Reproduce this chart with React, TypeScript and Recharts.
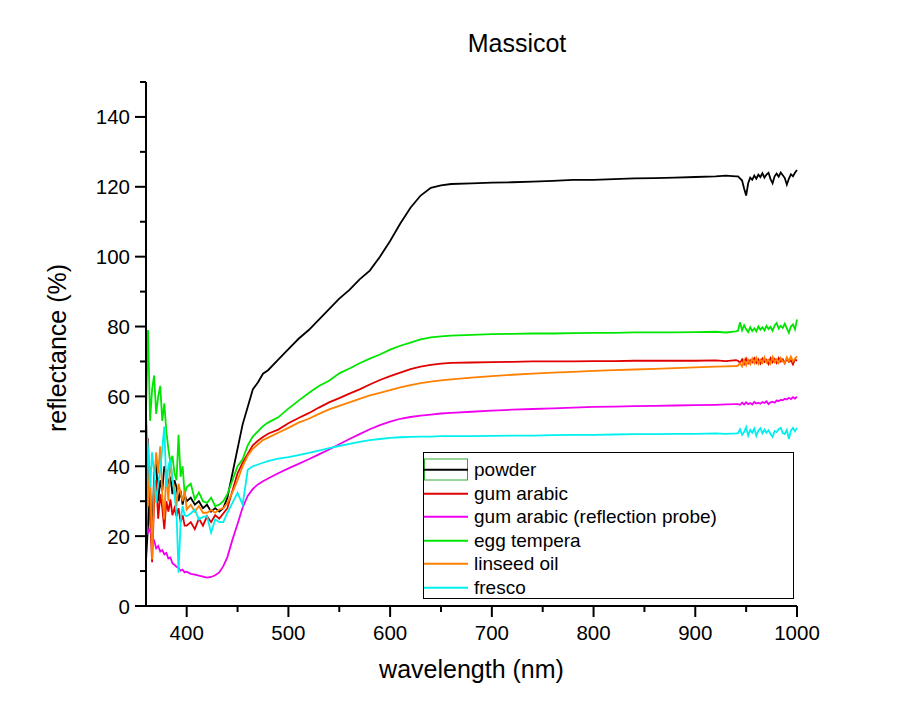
import { Legend, Line, LineChart, XAxis, YAxis } from "recharts";

const FONT = "Arial, 'Liberation Sans', sans-serif";

// wavelength grid (nm): dense where the spectra are noisy
const wavelength = [
  360, 362, 364, 366, 368, 370, 372, 374, 376, 378, 380, 382, 384, 386, 388, 390, 392, 394, 396, 398, 400,
  404, 408, 412, 416, 420, 424, 428, 432, 436, 440,
  445, 450, 455, 460, 465, 470, 475, 480,
  490, 500, 510, 520, 530, 540, 550, 560, 570, 580, 590, 600, 610, 620, 630, 640, 650,
  660, 680, 700, 720, 740, 760, 780, 800, 820, 840, 860, 880, 900, 920,
  930, 940,
  942, 944, 946, 948, 950, 952, 954, 956, 958, 960, 962, 964, 966, 968, 970,
  972, 974, 976, 978, 980, 982, 984, 986, 988, 990, 992, 994, 996, 998, 1000,
];

const powder = [
  13, 23, 34, 18, 38, 41, 30, 36, 33, 40, 38, 35, 37, 32, 36, 34, 30, 33, 29, 32, 30,
  31, 29, 30, 28, 29, 27, 28, 27, 28, 31,
  38, 45, 52, 57, 62, 64, 66.5, 67.5,
  70.5, 73.5, 76.5, 79, 82, 85, 88, 90.5, 93.5, 96, 100, 104.5, 109.5, 114, 117.5, 119.7, 120.4,
  120.8, 121, 121.2, 121.3, 121.5, 121.7, 122, 122, 122.2, 122.4, 122.5, 122.6, 122.8, 123,
  123.2, 123,
  123, 122.4, 121.8, 119.5, 117.5, 121, 122.6, 122, 123.2, 122.3, 123.5, 122.8, 123.9, 122.6, 123.5,
  124, 122.2, 121, 123, 123.8, 122.9, 124.1, 123.3, 122.5, 120.6, 122.3, 123.6, 123, 124, 124.8,
];

const gumArabic = [
  19, 48, 25, 12.5, 30, 36, 25, 32, 28, 22, 30, 27, 30.5, 26, 28, 25.7, 28, 24, 26, 23, 23,
  24, 22, 25, 23, 25.7, 24, 26, 25, 26.5, 28,
  33, 38, 41, 43.5, 46, 47.3, 48.4, 49.3,
  50.5, 52.3, 53.8, 55.2, 56.8, 58.3, 59.5, 60.8, 62, 63.4, 64.7, 65.8, 66.8, 67.8, 68.5, 69, 69.4,
  69.6, 69.7, 69.8, 69.9, 70, 70, 70, 70.1, 70.1, 70.2, 70.2, 70.2, 70.2, 70.3,
  70.1, 70.4,
  70.2, 69.6, 70.6, 69.3, 70.8, 69.5, 70.4, 69.8, 70.9, 69.6, 70.6, 69.4, 70.8, 69.9, 70.5,
  69.3, 70.9, 69.8, 70.7, 69.6, 71, 70, 70.6, 69.5, 70.8, 69.9, 70.4, 69.2, 70.6, 70.2,
];

const reflectionProbe = [
  25, 21, 22, 19.5, 18.8, 16.5, 17.2, 15.6, 16, 14.8, 15.2, 13.6, 13.9, 12.2, 11.8, 11.2, 10.9, 10.1, 10.4, 9.6, 9.8,
  9.2, 9, 8.7, 8.4, 8.1, 8.3, 8.8, 9.6, 11.4, 14,
  19, 23.5, 28.2, 31.5, 33.5, 34.8, 35.7, 36.5,
  38, 39.4, 40.7, 42, 43.4, 44.8, 46.3, 47.8, 49.2, 50.6, 51.8, 52.8, 53.6, 54.1, 54.5, 54.8, 55.1,
  55.3, 55.6, 55.9, 56.2, 56.4, 56.6, 56.8, 57, 57.1, 57.2, 57.3, 57.4, 57.5, 57.6,
  57.7, 57.8,
  57.8, 57.6, 58.2, 57.7, 58.3, 57.8, 58.1, 57.7, 58.4, 58, 58.2, 57.9, 58.4, 58.1, 58.6,
  57.8, 58.3, 58.5, 58.2, 58.8, 58.7, 59, 58.9, 59.3, 59.1, 59.6, 59.2, 59.8, 59.4, 59.9,
];

const eggTempera = [
  55, 79, 53, 62, 66, 55, 60, 63, 53, 58, 50, 45, 41, 43, 38, 36, 49, 37, 40, 32, 34,
  35, 30.5, 32.5, 30, 29.5, 31, 28.6, 29, 30, 32,
  36, 40, 42, 46, 48.5, 50, 51.5, 52.5,
  54, 56.5, 58.8, 61, 63, 64.5, 66.6, 68, 69.5, 70.8, 72, 73.4, 74.5, 75.4, 76.3, 76.9, 77.2,
  77.4, 77.6, 77.8, 77.9, 78, 78, 78.1, 78.2, 78.2, 78.3, 78.3, 78.3, 78.4, 78.5,
  78.3, 78.6,
  78.8, 81.2, 78.9, 80.4, 79.2, 78.4, 79.8, 78.7, 79.5, 78.6, 80, 79.1, 79.8, 78.9, 80.2,
  79.3, 79.9, 78.8, 80.3, 81, 79.4, 80.2, 79.6, 80.8, 79.5, 78.2, 80, 80.6, 79.2, 82,
];

const linseedOil = [
  56, 28.6, 40, 13.3, 35, 44, 38, 45.7, 32, 24.8, 39, 30, 42, 36, 34, 28.6, 35, 32.4, 30, 33, 27.6,
  29, 27, 28.6, 26.7, 26.7, 27.5, 26.7, 27.6, 28, 29.5,
  32.5, 36, 40, 43, 45, 46.3, 47.5, 48.2,
  49.6, 51, 52.5, 53.6, 55, 56.3, 57.3, 58.3, 59.3, 60.3, 61, 61.8, 62.6, 63.2, 63.8, 64.2, 64.6,
  64.9, 65.4, 65.8, 66.2, 66.5, 66.8, 67, 67.3, 67.5, 67.7, 67.9, 68.1, 68.3, 68.5,
  68.6, 68.7,
  68.8, 69.5, 68.6, 70.5, 68.9, 70.4, 69.2, 70.8, 69.5, 71, 69.3, 70.5, 69.6, 71.2, 69.7,
  70.4, 69.4, 71.3, 69.8, 70.6, 69.6, 71, 70, 69.5, 71.2, 70.1, 71.4, 70, 70.8, 71.5,
];

const fresco = [
  54, 45, 34, 44, 38, 29.5, 35, 39, 45, 51.4, 34, 40, 42, 36, 32, 26.7, 9.5, 24, 28.6, 26, 25.7,
  26.5, 27.6, 24.8, 25.5, 25.7, 21, 24.8, 24, 24, 26.7,
  29.5, 32.4, 29, 39, 40, 40.5, 41, 41.5,
  42.2, 42.6, 43.2, 43.8, 44.5, 45.2, 45.8, 46.4, 47, 47.5, 47.8, 48.1, 48.3, 48.4, 48.5, 48.5, 48.6,
  48.6, 48.6, 48.7, 48.8, 48.8, 48.9, 49, 49, 49.1, 49.2, 49.2, 49.3, 49.3, 49.4,
  49.3, 49.4,
  49.5, 50.6, 49, 49.8, 51.2, 48.8, 50.4, 49.6, 50.8, 48.7, 50.2, 50.9, 49.4, 50.5, 49.6,
  50.3, 49.2, 48.4, 50.1, 49.8, 50.6, 51, 49.5, 49.2, 50.4, 47.8, 50.2, 51, 50, 51,
];

const xTicks = [400, 450, 500, 550, 600, 650, 700, 750, 800, 850, 900, 950, 1000];
const yTicks = [0, 10, 20, 30, 40, 50, 60, 70, 80, 90, 100, 110, 120, 130, 140, 150];

const series = [
  { key: "powder", name: "powder", color: "#000000" },
  { key: "gumArabic", name: "gum arabic", color: "#e00000" },
  { key: "reflectionProbe", name: "gum arabic (reflection probe)", color: "#f000f0" },
  { key: "eggTempera", name: "egg tempera", color: "#00e600" },
  { key: "linseedOil", name: "linseed oil", color: "#ff8000" },
  { key: "fresco", name: "fresco", color: "#00f0f0" },
];

const data = wavelength.map((wl, i) => ({
  wl,
  powder: powder[i],
  gumArabic: gumArabic[i],
  reflectionProbe: reflectionProbe[i],
  eggTempera: eggTempera[i],
  linseedOil: linseedOil[i],
  fresco: fresco[i],
}));

// Origin-style ticks: long with a label every 100 nm / 20 %, short in between
function XTick({ x, y, payload }: any) {
  const major = payload.value % 100 === 0;
  return (
    <g>
      <line x1={x} x2={x} y1={y} y2={y + (major ? 11 : 6)} stroke="#000" strokeWidth={2} />
      {major && (
        <text x={x} y={y + 34} textAnchor="middle" fontSize={20.5} fontFamily={FONT} fill="#000">
          {payload.value}
        </text>
      )}
    </g>
  );
}

function YTick({ x, y, payload }: any) {
  const major = payload.value % 20 === 0;
  return (
    <g>
      <line x1={x} x2={x - (major ? 11 : 6)} y1={y} y2={y} stroke="#000" strokeWidth={2} />
      {major && (
        <text x={x - 16} y={y + 7.5} textAnchor="end" fontSize={20.5} fontFamily={FONT} fill="#000">
          {payload.value}
        </text>
      )}
    </g>
  );
}

// legend keeps the plotting order (Recharts would sort it by name)
function LegendBox() {
  return (
    <div
      style={{
        width: 371,
        height: 147,
        boxSizing: "border-box",
        border: "1px solid #000",
        background: "#fff",
        paddingTop: 5,
        fontFamily: FONT,
        fontSize: 19,
        color: "#000",
      }}
    >
      {series.map((s, i) => (
        <div key={s.key} style={{ display: "flex", alignItems: "center", height: 23.5 }}>
          <svg width={44} height={23.5} style={{ flex: "none" }}>
            {i === 0 && <rect x={0.5} y={1} width={43} height={21} fill="none" stroke="#3a3" strokeWidth={1} />}
            <line x1={0} x2={44} y1={11.75} y2={11.75} stroke={s.color} strokeWidth={2} />
          </svg>
          <span style={{ marginLeft: 6, lineHeight: "23.5px", whiteSpace: "nowrap" }}>{s.name}</span>
        </div>
      ))}
    </div>
  );
}

export default function App() {
  return (
    <div style={{ position: "absolute", left: 0, top: 0, width: 914, height: 723, background: "#fff" }}>
      <div
        style={{
          position: "absolute",
          left: 417,
          top: 31,
          width: 200,
          textAlign: "center",
          fontFamily: FONT,
          fontSize: 25,
          lineHeight: "25px",
          color: "#000",
        }}
      >
        Massicot
      </div>
      <LineChart width={914} height={723} data={data} margin={{ top: 82, right: 117, bottom: 42, left: 56 }}>
        <XAxis
          type="number"
          dataKey="wl"
          domain={[360, 1000]}
          ticks={xTicks}
          interval={0}
          height={75}
          tickSize={0}
          tickMargin={0}
          tickLine={false}
          tick={<XTick />}
          axisLine={{ stroke: "#000", strokeWidth: 2 }}
          label={{
            value: "wavelength (nm)",
            position: "insideBottom",
            offset: 3,
            style: { fontFamily: FONT, fontSize: 25, fill: "#000" },
          }}
        />
        <YAxis
          type="number"
          domain={[0, 150]}
          ticks={yTicks}
          interval={0}
          width={90}
          tickSize={0}
          tickMargin={0}
          tickLine={false}
          tick={<YTick />}
          axisLine={{ stroke: "#000", strokeWidth: 2 }}
          label={{
            value: "reflectance (%)",
            angle: -90,
            position: "insideLeft",
            offset: 1,
            dy: 4,
            style: { fontFamily: FONT, fontSize: 25, fill: "#000", textAnchor: "middle" },
          }}
        />
        <Legend
          layout="vertical"
          align="center"
          verticalAlign="middle"
          content={<LegendBox />}
          wrapperStyle={{ left: 423, top: 452, width: 371, height: 147 }}
        />
        {series.map((s) => (
          <Line
            key={s.key}
            type="linear"
            dataKey={s.key}
            name={s.name}
            stroke={s.color}
            strokeWidth={1.8}
            dot={false}
            activeDot={false}
            isAnimationActive={false}
          />
        ))}
      </LineChart>
    </div>
  );
}
